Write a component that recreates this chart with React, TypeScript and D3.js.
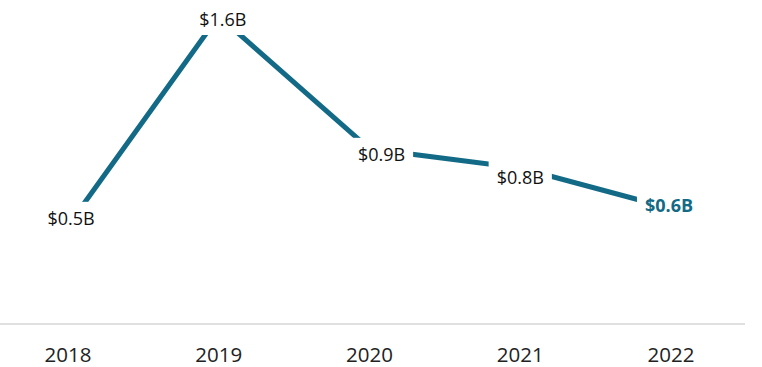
import { useEffect, useRef } from 'react'
import * as d3 from 'd3'

const YEARS = ['2018', '2019', '2020', '2021', '2022']
const VALUES = [0.51, 1.6, 0.91, 0.81, 0.6]
const LABELS = ['$0.5B', '$1.6B', '$0.9B', '$0.8B', '$0.6B']
// label nudges (px) relative to the point
const LABEL_DX = [3, 4, 12, 0, -2]
const LABEL_DY = [-1, 10, 12, 16, 3]

const LINE_COLOR = '#136a86'

export default function App() {
  const svgRef = useRef<SVGSVGElement>(null)
  const WIDTH = 762
  const HEIGHT = 367
  const BASE_Y = 324

  useEffect(() => {
    document.body.style.margin = '0'
    if (!svgRef.current) return
    const svg = d3.select(svgRef.current)
    svg.selectAll('*').remove()

    const x = d3.scalePoint<string>().domain(YEARS).range([68, 671])
    const y = d3.scaleLinear().domain([0, 1.6]).range([BASE_Y, 16])

    // baseline
    svg.append('line')
      .attr('x1', 0).attr('x2', 745).attr('y1', BASE_Y).attr('y2', BASE_Y)
      .attr('stroke', '#e0e0e0').attr('stroke-width', 2)

    // year labels
    svg.append('g').selectAll('text').data(YEARS).join('text')
      .attr('x', d => x(d)!).attr('y', 361.5)
      .attr('text-anchor', 'middle')
      .attr('font-family', '"Open Sans", sans-serif')
      .attr('font-size', 20.5).attr('fill', '#222')
      .text(d => d)

    // line
    const line = d3.line<number>()
      .x((_, i) => x(YEARS[i])!)
      .y(d => y(d))
    svg.append('path')
      .datum(VALUES)
      .attr('d', line)
      .attr('fill', 'none')
      .attr('stroke', LINE_COLOR)
      .attr('stroke-width', 5)

    // value labels with white knockout
    VALUES.forEach((v, i) => {
      const last = i === VALUES.length - 1
      const g = svg.append('g')
      const t = g.append('text')
        .attr('x', x(YEARS[i])! + LABEL_DX[i]).attr('y', y(v) + LABEL_DY[i])
        .attr('text-anchor', 'middle')
        .attr('font-family', '"Open Sans", sans-serif')
        .attr('font-size', 18)
        .attr('font-weight', last ? 700 : 400)
        .attr('fill', last ? LINE_COLOR : '#111')
        .text(LABELS[i])
      const bb = (t.node() as SVGTextElement).getBBox()
      const padX = 8
      const padY = 4
      g.insert('rect', 'text')
        .attr('x', bb.x - padX).attr('y', bb.y - padY)
        .attr('width', bb.width + padX * 2).attr('height', bb.height + padY * 2)
        .attr('fill', '#fff')
    })
  }, [])

  return <svg ref={svgRef} width={WIDTH} height={HEIGHT} style={{ display: 'block', background: '#fff' }} />
}
